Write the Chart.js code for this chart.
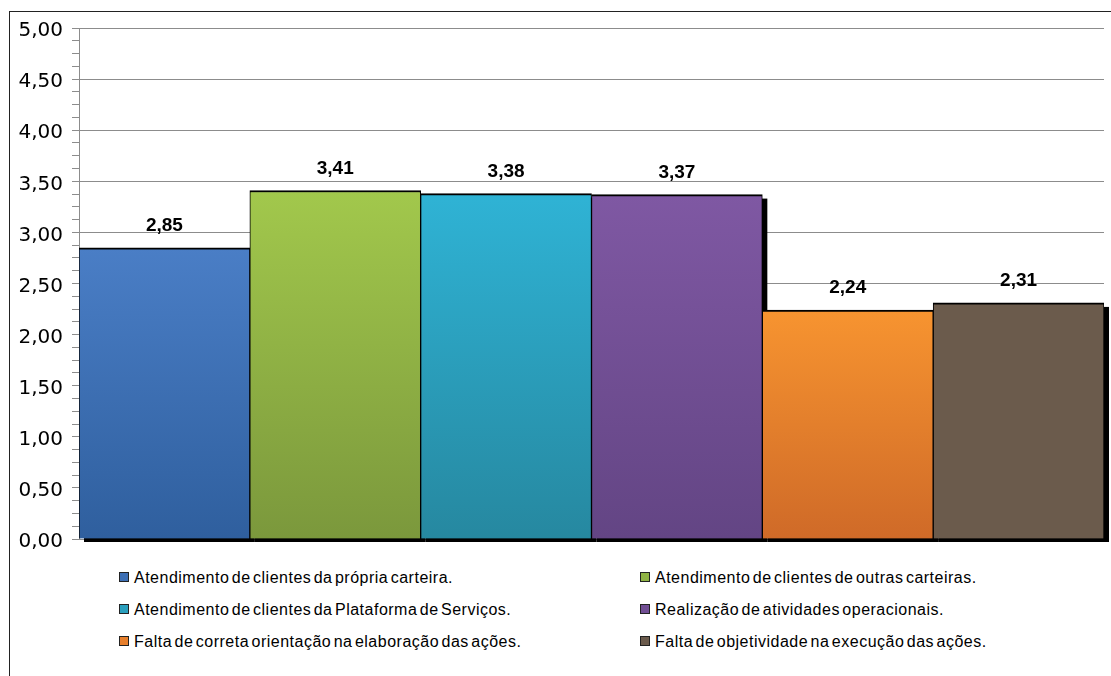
<!DOCTYPE html>
<html>
<head>
<meta charset="utf-8">
<script src="https://cdn.jsdelivr.net/npm/chart.js@4/dist/chart.umd.min.js"></script>
<style>
  html, body { margin: 0; padding: 0; background: #fff; }
  body { width: 1111px; height: 676px; overflow: hidden; position: relative; }
  #frame {
    position: absolute; left: 9px; top: 11px;
    width: 1120px; height: 700px;
    border: 1.5px solid #222; box-sizing: border-box;
  }
  #wrap { position: absolute; left: 0; top: 0; width: 1111px; height: 560px; }
  #legend {
    position: absolute; left: 119px; top: 568px; width: 992px;
    font-family: 'Liberation Sans', Arial, sans-serif;
    font-size: 16px; letter-spacing: 0.5px; word-spacing: -2.5px; color: #000;
  }
  .item { position: absolute; white-space: nowrap; height: 20px; line-height: 20px; }
  .box {
    display: inline-block; width: 8px; height: 8px; border: 1.5px solid #222;
    vertical-align: middle; margin: -3px 5px 0 0;
  }
</style>
</head>
<body>
<div id="frame"></div>
<div id="wrap"><canvas id="chart"></canvas></div>
<div id="legend"></div>
<script>
'use strict';

// ── Data ─────────────────────────────────────────────────
const seriesNames = [
  'Atendimento de clientes da própria carteira.',
  'Atendimento de clientes de outras carteiras.',
  'Atendimento de clientes da Plataforma de Serviços.',
  'Realização de atividades operacionais.',
  'Falta de correta orientação na elaboração das ações.',
  'Falta de objetividade na execução das ações.',
];
const seriesValues = [2.85, 3.41, 3.38, 3.37, 2.24, 2.31];
const yTicks = [0, 0.5, 1, 1.5, 2, 2.5, 3, 3.5, 4, 4.5, 5];

// ── Colours (top / bottom of gradient, legend swatch) ────
const TOPS    = ['#4a7ec6', '#a2c84c', '#2fb3d5', '#7f58a3', '#f79430', '#6b5b4c'];
const BOTTOMS = ['#2f5f9e', '#7b983c', '#2688a0', '#634584', '#cf6a28', '#6b5b4c'];
const SWATCH  = ['#3d6fb4', '#8fb344', '#2a9fbd', '#714e94', '#e77f2c', '#6b5b4c'];
const GRID    = '#8c8c8c';

const fmt = v => v.toFixed(2).replace('.', ',');

function barGradient(i) {
  return ctx => {
    const chart = ctx.chart;
    if (!chart.chartArea || !chart.scales.y) return TOPS[i];
    const y = chart.scales.y;
    const g = chart.ctx.createLinearGradient(0, y.getPixelForValue(seriesValues[i]), 0, y.getPixelForValue(0));
    g.addColorStop(0, TOPS[i]);
    g.addColorStop(1, BOTTOMS[i]);
    return g;
  };
}

// ── Plugins: drop shadow + value labels ──────────────────
// all shadows go down first, so every bar covers its left neighbour's shadow
const shadowPlugin = {
  id: 'barShadow',
  beforeDatasetsDraw(chart) {
    const ctx = chart.ctx;
    const base = chart.scales.y.getPixelForValue(0);
    ctx.save();
    ctx.fillStyle = '#000';
    chart.data.datasets.forEach((ds, i) => {
      chart.getDatasetMeta(i).data.forEach(bar => {
        const w = bar.width;
        ctx.fillRect(bar.x - w / 2 + 5, bar.y + 4, w, base - bar.y - 1);
      });
    });
    ctx.restore();
  },
};

const valueLabels = {
  id: 'valueLabels',
  afterDatasetsDraw(chart) {
    const ctx = chart.ctx;
    ctx.save();
    ctx.font = "bold 19px 'Liberation Sans', Arial, sans-serif";
    ctx.fillStyle = '#000';
    ctx.textAlign = 'center';
    ctx.textBaseline = 'middle';
    chart.data.datasets.forEach((ds, i) => {
      const bar = chart.getDatasetMeta(i).data[0];
      ctx.fillText(fmt(ds.data[0]), bar.x, bar.y - 22);
    });
    ctx.restore();
  },
};

// ── Chart ────────────────────────────────────────────────
const datasets = seriesNames.map((name, i) => ({
  label: name,
  data: [seriesValues[i]],
  backgroundColor: barGradient(i),
  borderColor: '#000',
  borderWidth: { top: 2, left: 1, right: 1, bottom: 0 },
  borderSkipped: false,
  categoryPercentage: 1,
  barPercentage: 1,
}));

new Chart(document.getElementById('chart'), {
  type: 'bar',
  data: { labels: [''], datasets },
  plugins: [shadowPlugin, valueLabels],
  options: {
    responsive: true,
    maintainAspectRatio: false,
    animation: false,
    layout: { padding: { left: 9, right: 7, top: 28, bottom: 14 } },
    plugins: { legend: { display: false }, tooltip: { enabled: false } },
    scales: {
      x: { display: false },
      y: {
        min: 0, max: 5,
        afterFit: s => { s.width = 70; },
        afterBuildTicks: s => {
          const t = [];
          for (let k = 0; k <= 40; k++) t.push({ value: k * 0.125 });
          s.ticks = t;
        },
        ticks: {
          autoSkip: false,
          padding: 9,
          labelOffset: 3,
          color: '#000',
          font: { family: "'DejaVu Sans', Verdana, sans-serif", size: 20 },
          callback: v => (yTicks.includes(v) ? fmt(v) : ''),
        },
        grid: {
          color: c => (c.tick && yTicks.includes(c.tick.value) ? GRID : 'rgba(0,0,0,0)'),
          tickColor: GRID,
          tickLength: 7,
          lineWidth: 1,
        },
        border: { display: true, color: GRID, width: 1 },
      },
    },
  },
});

// ── Legend (two columns) ─────────────────────────────────
const legendEl = document.getElementById('legend');
seriesNames.forEach((name, i) => {
  const el = document.createElement('div');
  el.className = 'item';
  el.style.left = (i % 2 ? 521 : 0) + 'px';
  el.style.top = (Math.floor(i / 2) * 32) + 'px';
  el.innerHTML = `<span class="box" style="background:${SWATCH[i]}"></span>${name}`;
  legendEl.appendChild(el);
});
</script>
</body>
</html>
